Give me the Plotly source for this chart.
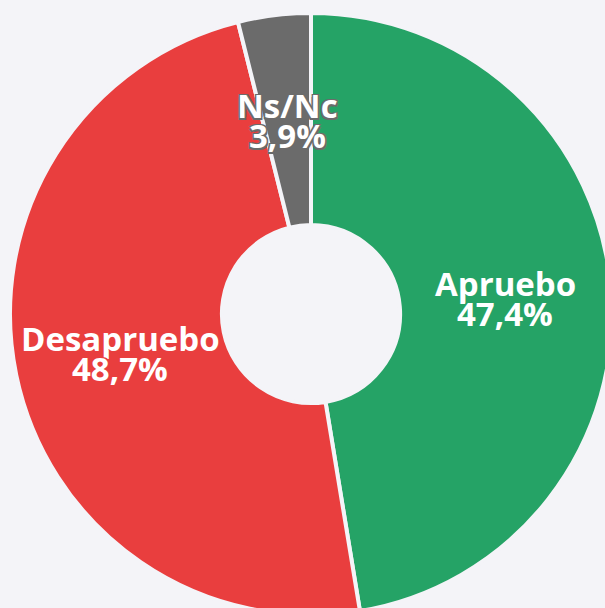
import math
import plotly.graph_objects as go

labels = ["Apruebo", "Desapruebo", "Ns/Nc"]
values = [47.4, 48.7, 3.9]
colors = ["#25a366", "#e93e3e", "#6b6b6b"]

bg = "#f4f4f8"
# the donut runs slightly off the bottom/right edge of the 605x608 window
W, H = 612, 615
M = dict(l=10, r=0, t=13, b=0)
HOLE = 0.296

fig = go.Figure()

fig.add_trace(go.Pie(
    labels=labels,
    values=values,
    hole=HOLE,
    sort=False,
    direction="clockwise",
    rotation=0,
    marker=dict(colors=colors, line=dict(color=bg, width=4)),
    textinfo="none",
    hoverinfo="skip",
    showlegend=False,
))

# labels at mid radius of each slice, two lines close together
radius = min(W - M["l"] - M["r"], H - M["t"] - M["b"]) / 2
r_txt = radius * (1 + HOLE) / 2
total = sum(values)
start = 0
for lab, val, col in zip(labels, values, colors):
    mid = (start + val / 2) / total * 2 * math.pi
    start += val
    dx = r_txt * math.sin(mid)
    dy = r_txt * math.cos(mid)
    shadow = ", ".join(f"{a}px {b}px 0 {col}" for a in (-1.5, 1.5) for b in (-1.5, 1.5))
    for txt, off in ((lab, 15), (f"{val:.1f}%".replace(".", ","), -15)):
        fig.add_annotation(
            x=0.5, y=0.5, xref="paper", yref="paper",
            xshift=dx, yshift=dy + off,
            text=txt, showarrow=False,
            font=dict(family="Open Sans", size=33, color="white", weight="bold",
                      shadow=shadow),
        )

fig.update_layout(
    width=W, height=H,
    paper_bgcolor=bg,
    plot_bgcolor=bg,
    margin=M,
)

fig.write_html("out.html", config={"displayModeBar": False},
               post_script="document.body.style.margin='0';"
                           "document.body.style.overflow='hidden';"
                           "document.body.style.background='%s';" % bg)
